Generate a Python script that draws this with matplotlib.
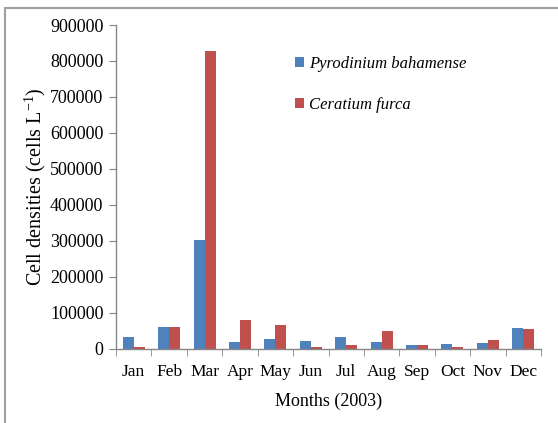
import matplotlib
matplotlib.use("Agg")
import matplotlib.pyplot as plt
import numpy as np
from matplotlib.lines import Line2D

months = ["Jan", "Feb", "Mar", "Apr", "May", "Jun", "Jul", "Aug", "Sep", "Oct", "Nov", "Dec"]
pyrodinium = [32400, 60000, 303000, 18000, 25700, 22000, 32400, 18000, 8600, 12400, 15200, 57000]
ceratium = [4800, 60000, 828000, 78000, 64000, 4800, 8600, 49500, 8600, 4800, 22900, 53300]

plt.rcParams["font.family"] = "Liberation Serif"
plt.rcParams["mathtext.fontset"] = "custom"
plt.rcParams["mathtext.rm"] = "Liberation Serif"
plt.rcParams["mathtext.it"] = "Liberation Serif:italic"

fs = 13
axis_gray = "#868686"

fig = plt.figure(figsize=(5.58, 4.23), dpi=100)
ax = fig.add_axes([116 / 558, (423 - 348.5) / 423, (541 - 116) / 558, (348.5 - 25) / 423])

x = np.arange(len(months))
w = 0.31
ax.bar(x - w / 2, pyrodinium, w, color="#4F81BD", label="Pyrodinium bahamense")
ax.bar(x + w / 2, ceratium, w, color="#C0504D", label="Ceratium furca")

ax.set_xlim(-0.5, len(months) - 0.5)
ax.set_ylim(0, 900000)
ax.set_yticks(np.arange(0, 900001, 100000))
ax.set_yticklabels([str(v) for v in range(0, 900001, 100000)], fontsize=fs)
ax.set_xticks(x)
ax.set_xticklabels(months, fontsize=12.5)
ax.set_xticks(np.arange(-0.5, len(months), 1), minor=True)
ax.tick_params(axis="x", which="major", length=0, pad=11)
ax.tick_params(axis="x", which="minor", length=5, color=axis_gray, direction="out")
ax.tick_params(axis="y", length=5, color=axis_gray, direction="out", pad=4)

for s in ["top", "right"]:
    ax.spines[s].set_visible(False)
for s in ["left", "bottom"]:
    ax.spines[s].set_color(axis_gray)
    ax.spines[s].set_linewidth(1)

ax.set_ylabel("Cell densities (cells L$^{-1}$)", fontsize=14.5, labelpad=1.5)
ax.set_xlabel("Months (2003)", fontsize=fs, labelpad=9)

leg = ax.legend(loc="upper left", bbox_to_anchor=(0.385, 0.95), frameon=False,
                handlelength=0.55, handleheight=0.55, handletextpad=0.3,
                labelspacing=1.5, prop={"family": "Liberation Serif", "style": "italic", "size": 12})

# outer frame (only top and left visible in the original)
fig.add_artist(Line2D([4.5 / 558, 4.5 / 558], [0, 1 - 8.5 / 423], transform=fig.transFigure,
                      color="#a0a0a0", lw=1.5))
fig.add_artist(Line2D([4.5 / 558, 1], [1 - 8.5 / 423, 1 - 8.5 / 423], transform=fig.transFigure,
                      color="#a0a0a0", lw=1.5))

fig.savefig("out.png", dpi=100)
